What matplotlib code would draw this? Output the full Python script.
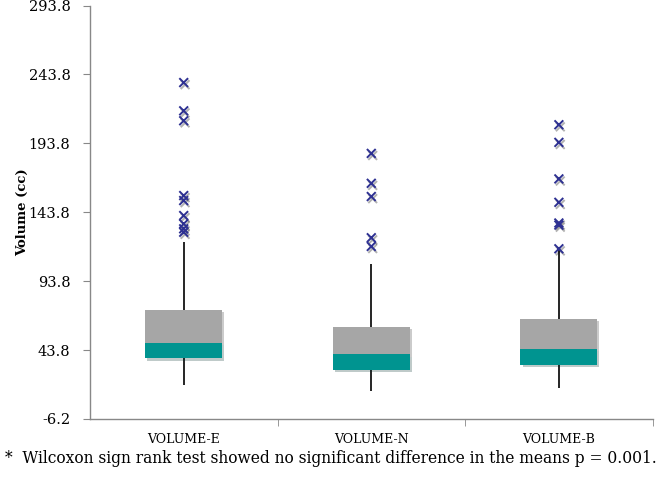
import matplotlib
matplotlib.use("Agg")
import matplotlib.pyplot as plt
import matplotlib.patheffects as pe
import numpy as np

categories = ["VOLUME-E", "VOLUME-N", "VOLUME-B"]
q1 = [37.7, 29.3, 32.9]
median = [49.0, 40.6, 44.5]
q3 = [72.7, 60.6, 66.6]
whisker_low = [18.4, 14.1, 16.0]
whisker_high = [122.1, 106.5, 116.1]
outliers = [
    [237.9, 217.4, 210.2, 155.9, 152.3, 141.4, 135.4, 131.8, 129.3],
    [186.5, 164.8, 155.2, 125.3, 119.0],
    [207.3, 194.5, 168.0, 151.0, 136.0, 134.5, 117.3],
]
yticks = [-6.2, 43.8, 93.8, 143.8, 193.8, 243.8, 293.8]
footnote = "*  Wilcoxon sign rank test showed no significant difference in the means p = 0.001."

plt.rcParams['font.family'] = ['DejaVu Serif']

fig = plt.figure(figsize=(6.66, 4.84), dpi=100)
ax = fig.add_axes([0.135, 0.1343, 0.845, 0.8543])

x = np.arange(len(categories))
w = 0.41
shadow = [pe.SimplePatchShadow(offset=(1.5, -1.5), alpha=0.25), pe.Normal()]

# whiskers
ax.vlines(x, q3, whisker_high, color='black', lw=1.2, zorder=2)
ax.vlines(x, whisker_low, q1, color='black', lw=1.2, zorder=2)

lower = np.array(median) - np.array(q1)
upper = np.array(q3) - np.array(median)
b2 = ax.bar(x, upper, w, bottom=median, color='#A6A6A6', zorder=3)
b1 = ax.bar(x, lower, w, bottom=q1, color='#009490', zorder=3.5)
for r in list(b1) + list(b2):
    r.set_path_effects(shadow)

for i, vals in enumerate(outliers):
    ax.scatter([x[i]] * len(vals), vals, marker='x', s=40, color='#2E3192',
               linewidths=1.4, zorder=4,
               path_effects=[pe.SimpleLineShadow(offset=(1, -1.5), alpha=0.3), pe.Normal()])

ax.set_xlim(-0.5, 2.5)
ax.set_ylim(-6.2, 293.8)
ax.set_yticks(yticks)
ax.set_yticklabels([f"{v:.1f}" for v in yticks], fontsize=10.5)
ax.set_xticks(x)
ax.set_xticklabels(categories, fontsize=9)
ax.tick_params(axis='x', length=0, pad=10)
ax.set_xticks([0.5, 1.5, 2.5], minor=True)
ax.tick_params(axis='x', which='minor', length=5, color='#888888', direction='out')
ax.tick_params(axis='y', length=5, color='#888888', direction='out', pad=9)

for s in ['top', 'right']:
    ax.spines[s].set_visible(False)
for s in ['left', 'bottom']:
    ax.spines[s].set_color('#888888')
    ax.spines[s].set_linewidth(1.0)

ax.set_ylabel("Volume (cc)", fontsize=9.5, fontweight='bold')
ax.yaxis.set_label_coords(-0.108, 0.5)

t = fig.text(0.008, 0.053, footnote, fontsize=11, ha='left', va='center')
# fit footnote to the reference's width (~658 px)
fig.canvas.draw()
bb = t.get_window_extent()
t.set_fontsize(11 * 658.0 / bb.width)

fig.savefig("out.png", dpi=100)
